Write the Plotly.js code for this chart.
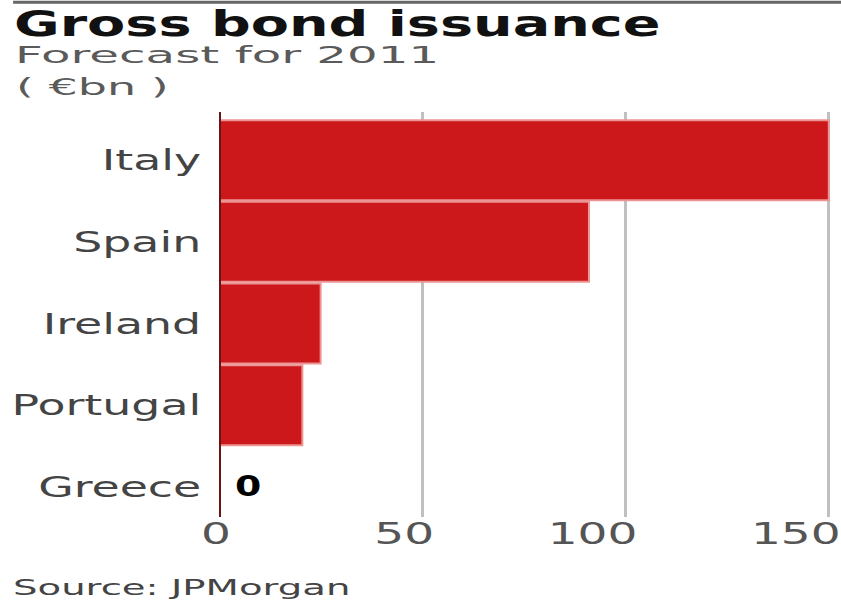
<!DOCTYPE html>
<html>
<head>
<meta charset="utf-8">
<script src="https://cdn.plot.ly/plotly-3.0.1.min.js"></script>
<style>
  html, body { margin: 0; padding: 0; background: #fff; }
  #chart { width: 841px; height: 604px; }
</style>
</head>
<body>
<div id="chart"></div>
<script>
const countries = ["Italy", "Spain", "Ireland", "Portugal", "Greece"];
const issuance = [150, 91, 25, 20.5, 0];
const xTicks = [0, 50, 100, 150];
const titleText = "Gross bond issuance";
const subtitleText = "Forecast for 2011";
const unitText = "( €bn )";
const sourceText = "Source: JPMorgan";

const FONT = "DejaVu Sans";

const trace = {
  type: "bar",
  orientation: "h",
  y: countries,
  x: issuance,
  marker: { color: "#cc181a", line: { color: "#ec9494", width: 2 } },
  text: issuance.map(v => v === 0 ? "\u2002" + v : ""),
  textposition: "outside",
  cliponaxis: false,
  textfont: { family: FONT, size: 28, color: "#000", weight: "bold" },
  hoverinfo: "skip"
};

const layout = {
  width: 841, height: 604,
  margin: { l: 219, r: 0, t: 112, b: 87 },
  paper_bgcolor: "#fff", plot_bgcolor: "#fff",
  showlegend: false,
  bargap: 0.02,
  xaxis: {
    range: [0, 153],
    tickvals: xTicks,
    ticktext: xTicks.map(String),
    showgrid: true, gridcolor: "#c0c0c0", gridwidth: 3,
    zeroline: false, showline: false, ticks: "",
    ticklabeloverflow: "allow",
    tickfont: { family: FONT, size: 30, color: "#555" },
    fixedrange: true
  },
  yaxis: {
    type: "category",
    categoryorder: "array", categoryarray: countries,
    range: [4.37, -0.59],
    showgrid: false, zeroline: false, showline: false,
    ticks: "outside", ticklen: 11, tickcolor: "rgba(0,0,0,0)",
    tickfont: { family: FONT, size: 29, color: "#444" },
    fixedrange: true
  },
  shapes: [
    { type: "line", xref: "x", yref: "paper", x0: 0, x1: 0, y0: 0, y1: 1,
      line: { color: "#6a1414", width: 4 }, layer: "above" },
    { type: "line", xref: "paper", yref: "paper", x0: -0.331, x1: 1.0, y0: 1.271, y1: 1.271,
      line: { color: "#666", width: 3 } }
  ],
  annotations: [
    { text: "<b>" + titleText + "</b>", xref: "paper", yref: "paper", align: "left",
      x: -0.332, y: (517 - 24) / 405, xanchor: "left", yanchor: "middle", showarrow: false,
      font: { family: FONT, size: 35, color: "#111" } },
    { text: subtitleText, xref: "paper", yref: "paper", align: "left",
      x: -0.331, y: (517 - 55) / 405, xanchor: "left", yanchor: "middle", showarrow: false,
      font: { family: FONT, size: 23, color: "#5a5a5a" } },
    { text: unitText, xref: "paper", yref: "paper", align: "left",
      x: -0.329, y: (517 - 87) / 405, xanchor: "left", yanchor: "middle", showarrow: false,
      font: { family: FONT, size: 23, color: "#5a5a5a" } },
    { text: sourceText, xref: "paper", yref: "paper", align: "left",
      x: -0.334, y: (517 - 588) / 405, xanchor: "left", yanchor: "middle", showarrow: false,
      font: { family: FONT, size: 21, color: "#444" } }
  ]
};

// horizontally stretch a text element around its anchor point
function stretch(el, f, dx, dy) {
  const x = parseFloat(el.getAttribute("x")) || 0;
  const t = el.getAttribute("transform") || "";
  el.setAttribute("transform",
    t + " translate(" + (x + (dx || 0)) + "," + (dy || 0) + ") scale(" + f + ",1) translate(" + (-x) + ",0)");
}

Plotly.newPlot("chart", [trace], layout, { staticPlot: true, displayModeBar: false }).then(gd => {
  const ann = [1.59, 2.1, 2.0, 1.84];
  gd.querySelectorAll("g.annotation").forEach(g => {
    const i = +g.getAttribute("data-index");
    const t = g.querySelector("text");
    if (t) stretch(t, ann[i]);
  });
  gd.querySelectorAll(".ytick text").forEach(t => stretch(t, 1.58));
  const xf = 1.57;
  gd.querySelectorAll(".xtick text").forEach(t => {
    // right-align labels so that the last digit sits on the gridline
    const w = t.getComputedTextLength();
    const digit = w / t.textContent.length;
    t.setAttribute("text-anchor", "end");
    stretch(t, xf, digit * xf / 2 - 3, -4);
  });
  gd.querySelectorAll(".bartext").forEach(t => stretch(t, 1.35));
});
</script>
</body>
</html>
